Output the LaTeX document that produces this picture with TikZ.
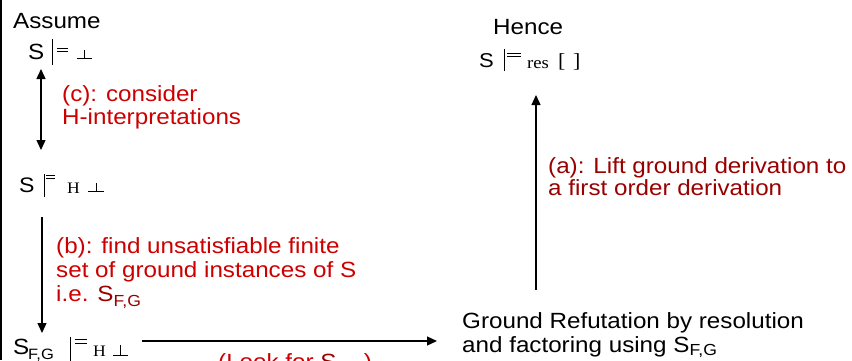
\documentclass[tikz,border=0pt]{standalone}
\usepackage{fontspec}
\setmainfont[FakeStretch=1.1]{Liberation Sans}
\newfontfamily\serifface[FakeStretch=1.1]{Liberation Serif}
\usetikzlibrary{arrows.meta}
\definecolor{redA}{RGB}{204,0,0}
\definecolor{redB}{RGB}{153,0,0}
\newcommand\putat[2]{\makebox[0pt][l]{\hspace*{#1}#2}}
\newcommand\vbar[2]{\rule[-#2]{1pt}{\dimexpr#1+#2\relax}}
\newcommand\eqs[3]{\makebox[0pt][l]{\raisebox{#2}{\rule{#1}{0.8pt}}}\raisebox{#3}{\rule{#1}{0.8pt}}}
\newcommand\bott[2]{\makebox[0pt][l]{\rule{#1}{0.9pt}}\hspace*{\dimexpr#1/2-0.45pt\relax}\rule{0.9pt}{#2}}
\newcommand\subFG[2]{\raisebox{-#2}{\fontsize{#1}{#1}\selectfont F,G}}
\tikzset{
  lbl/.style={anchor=base west, inner sep=0pt, font=\fontsize{22}{26}\selectfont},
  redlbl/.style={lbl, text=redA},
  darklbl/.style={lbl, text=redB},
  arr/.style={line width=1.3pt, -{Triangle[length=10pt,width=9pt]}},
  darr/.style={line width=1.3pt, {Triangle[length=10pt,width=9pt]}-{Triangle[length=10pt,width=9pt]}}
}
\begin{document}
\begin{tikzpicture}[x=1pt,y=-1pt]
\useasboundingbox (0,0) rectangle (852,360);
\clip (0,0) rectangle (852,360);
\fill[white] (0,0) rectangle (852,360);
% left border
\coordinate (bt) at (1,0);
\coordinate (bb) at (1,360);
\draw[line width=1.5pt] (bt) -- (bb);

% Assume
\node[lbl] (assume) at (13,28) {Assume};
\node[lbl] (top) at (28,59) {\putat{0pt}{S}\putat{24pt}{\vbar{20pt}{6pt}}\putat{29pt}{\eqs{11pt}{7pt}{10.5pt}}\putat{49pt}{\bott{15pt}{9.5pt}}\hspace*{64pt}};

% (c)
\coordinate (c1) at (41,69);
\coordinate (c2) at (41,150);
\draw[darr] (c1) -- (c2);
\node[redlbl] (cA) at (62,101) {(c): consider};
\node[redlbl] (cB) at (62,124) {H-interpretations};

% middle
\node[lbl, font=\fontsize{21}{25}\selectfont] (mid) at (19,192) {\putat{0pt}{S}\putat{25pt}{\vbar{18pt}{5pt}}\putat{27pt}{\eqs{9pt}{13pt}{16.5pt}}\putat{48pt}{\raisebox{-1.5pt}{\serifface\fontsize{16}{16}\selectfont H}}\putat{69pt}{\bott{16pt}{9pt}}\hspace*{85pt}};

% (b)
\coordinate (b1) at (42,217);
\coordinate (b2) at (42,333);
\draw[arr] (b1) -- (b2);
\node[redlbl] (bA) at (56,253) {(b): find unsatisfiable finite};
\node[redlbl] (bB) at (56,277) {set of ground instances of S};
\node[redlbl] (bC) at (56,301) {i.e. \textcolor{redB}{S\subFG{16}{5pt}}};

% bottom
\node[lbl] (bot) at (13,354) {\putat{0pt}{S}\putat{15pt}{\subFG{15}{5pt}}\putat{57pt}{\vbar{17pt}{7pt}}\putat{62pt}{\eqs{12pt}{10pt}{14pt}}\putat{80pt}{\raisebox{-2pt}{\serifface\fontsize{16}{16}\selectfont H}}\putat{100pt}{\raisebox{-2pt}{\bott{15pt}{11pt}}}\hspace*{115pt}};

% horizontal arrow
\coordinate (h1) at (142,341);
\coordinate (h2) at (437,341);
\draw[arr] (h1) -- (h2);
\node[redlbl] (look) at (218,369) {(Look for \textcolor{redB}{S\subFG{16}{5pt}})};

% Ground refutation
\node[lbl] (gA) at (462,328) {Ground Refutation by resolution};
\node[lbl] (gB) at (462,352) {and factoring using S\subFG{16}{3pt}};

% (a)
\coordinate (a1) at (536,290);
\coordinate (a2) at (536,95);
\draw[arr] (a1) -- (a2);
\node[darklbl] (aA) at (548,173) {(a): Lift ground derivation to};
\node[darklbl] (aB) at (548,195) {a first order derivation};

% Hence
\node[lbl] (hence) at (493,34) {Hence};
\node[lbl, font=\fontsize{20}{24}\selectfont] (res) at (479,67) {\putat{0pt}{S}\putat{25pt}{\vbar{18pt}{4pt}}\putat{28pt}{\eqs{14pt}{10pt}{13pt}}\putat{48pt}{\raisebox{-1pt}{\serifface\fontsize{17}{17}\selectfont res}}\putat{79pt}{\serifface\fontsize{20}{20}\selectfont [}\putat{94pt}{\serifface\fontsize{20}{20}\selectfont ]}\hspace*{102pt}};
\end{tikzpicture}
\end{document}
